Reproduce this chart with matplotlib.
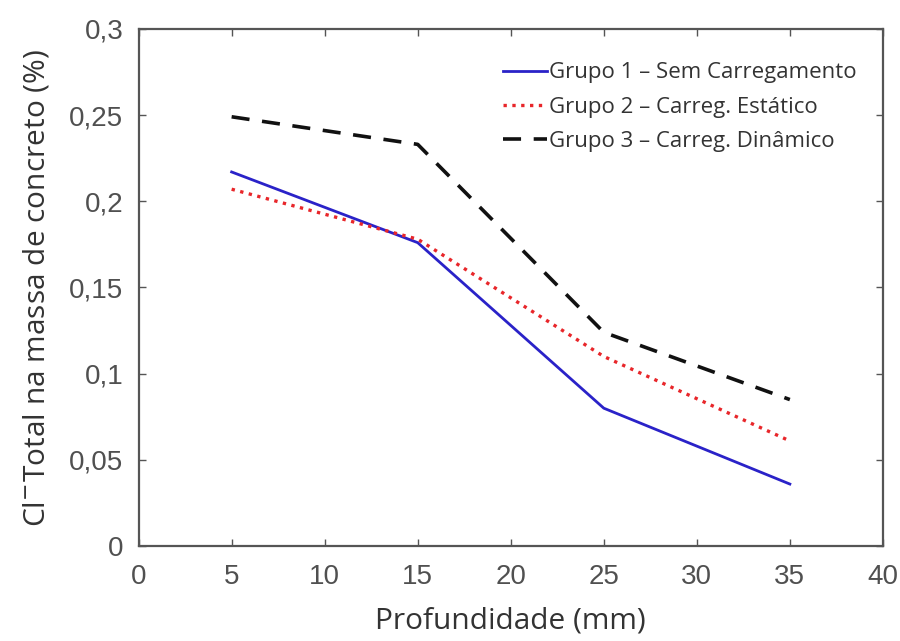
import matplotlib.pyplot as plt
from matplotlib.ticker import FuncFormatter, MultipleLocator

# profundidade (mm) e teor de cloretos totais (%)
profundidade = [5, 15, 25, 35]
grupo1 = [0.217, 0.176, 0.080, 0.036]
grupo2 = [0.207, 0.178, 0.110, 0.061]
grupo3 = [0.249, 0.233, 0.124, 0.085]

labels = ['Grupo 1 – Sem Carregamento',
          'Grupo 2 – Carreg. Estático',
          'Grupo 3 – Carreg. Dinâmico']

fig = plt.figure(figsize=(9, 6.41), dpi=100)
ax = fig.add_axes([0.154, 0.148, 0.827, 0.807])

ax.plot(profundidade, grupo1, '-', color='#2a22c8', lw=2, label=labels[0])
ax.plot(profundidade, grupo2, ':', color='#e8262a', lw=2.4, label=labels[1])
ax.plot(profundidade, grupo3, '--', color='#111111', lw=2.6, dashes=(5, 3.5), label=labels[2])

ax.set_xlim(0, 40)
ax.set_ylim(0, 0.3)
ax.xaxis.set_major_locator(MultipleLocator(5))
ax.yaxis.set_major_locator(MultipleLocator(0.05))

def virgula(v, pos):
    return f'{v:g}'.replace('.', ',')

ax.yaxis.set_major_formatter(FuncFormatter(virgula))
ax.xaxis.set_major_formatter(FuncFormatter(virgula))

for s in ax.spines.values():
    s.set_color('#555555')
    s.set_linewidth(1.6)
ax.tick_params(direction='in', top=True, right=True, length=5, width=1,
               color='#555555', labelcolor='#505050', labelsize=20)
ax.tick_params(axis='x', pad=13)
ax.tick_params(axis='y', pad=11)
for t in ax.get_xticklabels() + ax.get_yticklabels():
    t.set_family('Liberation Sans')

fonte = ['Open Sans', 'DejaVu Sans']
ax.set_xlabel('Profundidade (mm)', fontsize=21.5, family=fonte, color='#333333', labelpad=12)
ax.set_ylabel('Cl$^{-}$Total na massa de concreto (%)', fontsize=21.5, family=fonte,
              color='#333333', labelpad=13)

leg = ax.legend(loc='upper right', frameon=False, handlelength=2.0, handletextpad=0.1,
                labelspacing=0.6, borderpad=0, borderaxespad=0,
                bbox_to_anchor=(0.965, 0.935),
                prop={'family': fonte, 'size': 16})
for t in leg.get_texts():
    t.set_color('#333333')

fig.savefig('out.png', dpi=100)
